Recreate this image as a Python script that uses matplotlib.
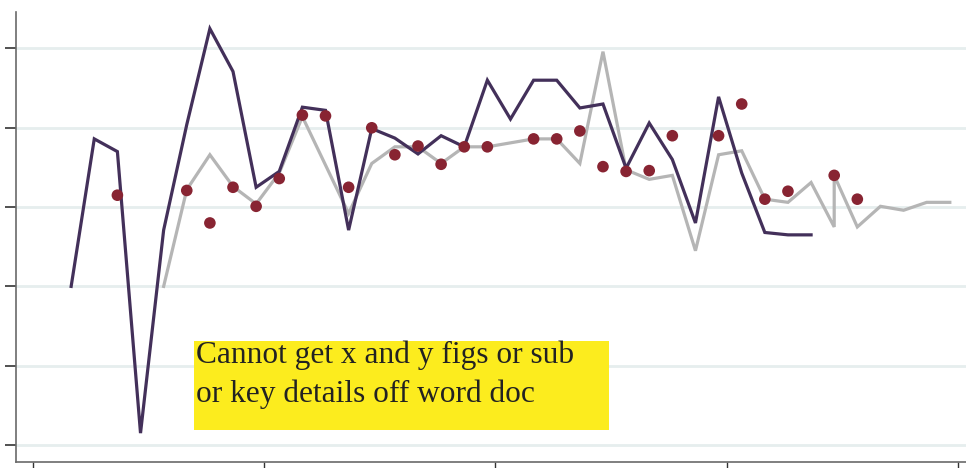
import numpy as np
import matplotlib
matplotlib.use("Agg")
import matplotlib.pyplot as plt
from matplotlib.patches import Rectangle

# --- data (no axis labels in the source) -------------------------------------
X0 = 1.65                       # first period sits 1.65 units right of tick 0

purple_idx = list(range(0, 33))
purple_val = [2.00, 3.86, 3.70, 0.15, 2.71, 4.04, 5.25, 4.71, 3.25, 3.45,
              4.26, 4.22, 2.71, 3.99, 3.87, 3.67, 3.90, 3.76, 4.60, 4.11,
              4.60, 4.60, 4.25, 4.30, 3.49, 4.06, 3.60, 2.80, 4.39, 3.43,
              2.68, 2.65, 2.65]

grey_idx = [4, 5, 6, 7, 8, 9, 10, 11, 12, 13, 14, 15, 16, 17, 18, 19, 20,
            21, 22, 23, 24, 25, 26, 27, 28, 29, 30, 31, 32, 33, 33, 34, 35,
            36, 37, 38]
grey_val = [2.00, 3.22, 3.66, 3.26, 3.04, 3.43, 4.14, 3.53, 2.92, 3.55,
            3.76, 3.76, 3.55, 3.76, 3.76, 3.81, 3.86, 3.86, 3.55, 4.96,
            3.47, 3.35, 3.40, 2.45, 3.66, 3.71, 3.10, 3.06, 3.31, 2.75,
            3.40, 2.75, 3.01, 2.96, 3.06, 3.06]

dot_idx = [2, 5, 6, 7, 8, 9, 10, 11, 12, 13, 14, 15, 16, 17, 18, 20, 21,
           22, 23, 24, 25, 26, 28, 29, 30, 31, 33, 34]
dot_val = [3.15, 3.21, 2.80, 3.25, 3.01, 3.36, 4.16, 4.15, 3.25, 4.00,
           3.66, 3.77, 3.54, 3.76, 3.76, 3.86, 3.86, 3.96, 3.51, 3.45,
           3.46, 3.90, 3.90, 4.30, 3.10, 3.20, 3.40, 3.10]

NOTE = "Cannot get x and y figs or sub\nor key details off word doc"

C_PURPLE = "#43305a"
C_GREY = "#b5b5b5"
C_DOT = "#882432"
C_GRID = "#e6eeee"
C_YELLOW = "#fcec1e"

# -----------------------------------------------------------------------------
fig = plt.figure(figsize=(9.66, 4.68), dpi=100)
ax = fig.add_axes([16 / 966, 6 / 468, 950 / 966, 450 / 468])

ax.set_xlim(-0.735, 40.35)
ax.set_ylim(-0.214, 5.46)

ax.set_yticks(range(0, 6))
ax.set_xticks(range(0, 41, 10))
ax.set_yticklabels([])
ax.set_xticklabels([])
ax.yaxis.grid(True, color=C_GRID, linewidth=2.0)
ax.set_axisbelow(True)

for s in ("top", "right"):
    ax.spines[s].set_visible(False)
for s in ("left", "bottom"):
    ax.spines[s].set_color("#6a6a6a")
    ax.spines[s].set_linewidth(1.2)
ax.tick_params(axis="y", length=8, width=1.2, color="#333333")
ax.tick_params(axis="x", length=5, width=1.0, color="#333333")

ax.plot(X0 + np.array(purple_idx), purple_val, color=C_PURPLE, lw=2.3,
        solid_joinstyle="miter", zorder=3)
ax.plot(X0 + np.array(grey_idx), grey_val, color=C_GREY, lw=2.3,
        solid_joinstyle="miter", zorder=2)
ax.scatter(X0 + np.array(dot_idx), dot_val, s=70, color=C_DOT,
           edgecolors="none", zorder=4)

# yellow note box, in figure pixels
fig.patches.append(Rectangle((194 / 966, 1 - 430 / 468), 415 / 966, 89 / 468,
                             transform=fig.transFigure, facecolor=C_YELLOW,
                             edgecolor="none", zorder=5))
# baseline of the last line
fig.text(196 / 966, 1 - 402 / 468, NOTE, family="Liberation Serif",
         fontsize=22.6, color="#222222", va="baseline", ha="left",
         linespacing=1.4, zorder=6)

fig.savefig("out.png", dpi=100)
